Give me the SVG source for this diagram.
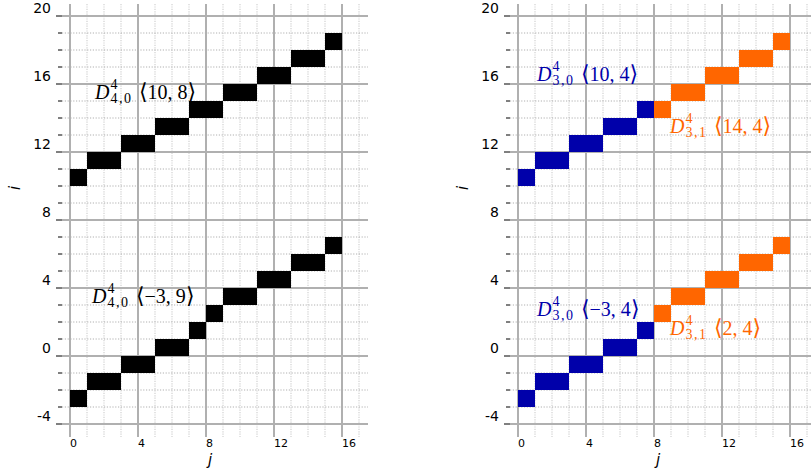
<svg xmlns="http://www.w3.org/2000/svg" xmlns:xlink="http://www.w3.org/1999/xlink" width="811" height="476" viewBox="0 0 811 476">
<style>
.maj{stroke:#b0b0b0;stroke-width:2;fill:none}
.minh{stroke:#b0b0b0;stroke-width:1;stroke-dasharray:1.2 1.6;fill:none}
.minv{stroke:#dcdcdc;stroke-width:1.6;stroke-dasharray:1.2 1.2;fill:none}
.tk{stroke:#000;stroke-width:1;fill:none}
.yl{font-family:"DejaVu Sans",sans-serif;font-size:14px;text-anchor:end;fill:#000}
.xl{font-family:"DejaVu Sans",sans-serif;font-size:11px;fill:#000}
.ax{font-family:"DejaVu Sans",sans-serif;font-style:italic;font-size:15px;text-anchor:middle;fill:#000}
.lb{font-family:"Liberation Serif","DejaVu Serif","DejaVu Sans",serif;font-size:20px}
.sc{font-size:14px;letter-spacing:1.5px}
.br{font-size:22px}
.k{fill:#000}
.b{fill:#0000aa}
.o{fill:#ff6600}
</style>
<defs>
<g id="grid">
<path class="minv" d="M87 4V437M104 4V437M121 4V437M155 4V437M172 4V437M189 4V437M223 4V437M240 4V437M257 4V437M291 4V437M308 4V437M325 4V437M359 4V437"/>
<path class="minh" d="M62 407H368M62 390H368M62 373H368M62 339H368M62 322H368M62 305H368M62 271H368M62 254H368M62 237H368M62 203H368M62 186H368M62 169H368M62 135H368M62 118H368M62 101H368M62 67H368M62 50H368M62 33H368"/>
<path class="maj" d="M70 4V437M138 4V437M206 4V437M274 4V437M342 4V437M62 424H368M62 356H368M62 288H368M62 220H368M62 152H368M62 84H368M62 16H368"/>
</g>
<g id="axis">
<path class="tk" d="M56 424H62M56 356H62M56 288H62M56 220H62M56 152H62M56 84H62M56 16H62"/>
<path class="tk" d="M58 407H62M58 390H62M58 373H62M58 339H62M58 322H62M58 305H62M58 271H62M58 254H62M58 237H62M58 203H62M58 186H62M58 169H62M58 135H62M58 118H62M58 101H62M58 67H62M58 50H62M58 33H62"/>
<text class="yl" x="51" y="13">20</text>
<text class="yl" x="51" y="81">16</text>
<text class="yl" x="51" y="149">12</text>
<text class="yl" x="51" y="217">8</text>
<text class="yl" x="51" y="285">4</text>
<text class="yl" x="51" y="353">0</text>
<text class="yl" x="51" y="421">-4</text>
<text class="xl" x="70" y="447">0</text>
<text class="xl" x="138" y="447">4</text>
<text class="xl" x="206" y="447">8</text>
<text class="xl" x="274" y="447">12</text>
<text class="xl" x="342" y="447">16</text>
<text class="ax" x="210" y="465">j</text>
<text class="ax" transform="translate(20,188) rotate(-90)">i</text>
</g>
</defs>

<g id="left-plot">
<use xlink:href="#grid"/>
<g id="left-upper" class="k">
<rect x="70" y="169" width="17" height="17"/>
<rect x="87" y="152" width="34" height="17"/>
<rect x="121" y="135" width="34" height="17"/>
<rect x="155" y="118" width="34" height="17"/>
<rect x="189" y="101" width="34" height="17"/>
<rect x="223" y="84" width="34" height="17"/>
<rect x="257" y="67" width="34" height="17"/>
<rect x="291" y="50" width="34" height="17"/>
<rect x="325" y="33" width="17" height="17"/>
</g>
<g id="left-lower" class="k">
<rect x="70" y="390" width="17" height="17"/>
<rect x="87" y="373" width="34" height="17"/>
<rect x="121" y="356" width="34" height="17"/>
<rect x="155" y="339" width="34" height="17"/>
<rect x="189" y="322" width="17" height="17"/>
<rect x="206" y="305" width="17" height="17"/>
<rect x="223" y="288" width="34" height="17"/>
<rect x="257" y="271" width="34" height="17"/>
<rect x="291" y="254" width="34" height="17"/>
<rect x="325" y="237" width="17" height="17"/>
</g>
<use xlink:href="#axis"/>
<g id="label-left-upper">
<text class="lb k"><tspan x="95" y="99" font-style="italic">D</tspan><tspan class="sc" x="110.5" y="89">4</tspan><tspan class="sc" x="110.5" y="103">4,0</tspan><tspan class="br" x="139" y="99">⟨</tspan><tspan>10, 8</tspan><tspan class="br">⟩</tspan></text>
</g>
<g id="label-left-lower">
<text class="lb k"><tspan x="92" y="303" font-style="italic">D</tspan><tspan class="sc" x="107.5" y="293">4</tspan><tspan class="sc" x="107.5" y="307">4,0</tspan><tspan class="br" x="136" y="303">⟨</tspan><tspan>−3, 9</tspan><tspan class="br">⟩</tspan></text>
</g>
</g>

<g id="right-plot">
<use xlink:href="#grid" x="448"/>
<g id="right-upper-blue" class="b">
<rect x="518" y="169" width="17" height="17"/>
<rect x="535" y="152" width="34" height="17"/>
<rect x="569" y="135" width="34" height="17"/>
<rect x="603" y="118" width="34" height="17"/>
<rect x="637" y="101" width="17" height="17"/>
</g>
<g id="right-upper-orange" class="o">
<rect x="654" y="101" width="17" height="17"/>
<rect x="671" y="84" width="34" height="17"/>
<rect x="705" y="67" width="34" height="17"/>
<rect x="739" y="50" width="34" height="17"/>
<rect x="773" y="33" width="17" height="17"/>
</g>
<g id="right-lower-blue" class="b">
<rect x="518" y="390" width="17" height="17"/>
<rect x="535" y="373" width="34" height="17"/>
<rect x="569" y="356" width="34" height="17"/>
<rect x="603" y="339" width="34" height="17"/>
<rect x="637" y="322" width="17" height="17"/>
</g>
<g id="right-lower-orange" class="o">
<rect x="654" y="305" width="17" height="17"/>
<rect x="671" y="288" width="34" height="17"/>
<rect x="705" y="271" width="34" height="17"/>
<rect x="739" y="254" width="34" height="17"/>
<rect x="773" y="237" width="17" height="17"/>
</g>
<use xlink:href="#axis" x="448"/>
<g id="label-right-upper-blue">
<text class="lb b"><tspan x="537" y="81" font-style="italic">D</tspan><tspan class="sc" x="552.5" y="71">4</tspan><tspan class="sc" x="552.5" y="85">3,0</tspan><tspan class="br" x="581" y="81">⟨</tspan><tspan>10, 4</tspan><tspan class="br">⟩</tspan></text>
</g>
<g id="label-right-upper-orange">
<text class="lb o"><tspan x="670" y="133" font-style="italic">D</tspan><tspan class="sc" x="685.5" y="123">4</tspan><tspan class="sc" x="685.5" y="137">3,1</tspan><tspan class="br" x="714" y="133">⟨</tspan><tspan>14, 4</tspan><tspan class="br">⟩</tspan></text>
</g>
<g id="label-right-lower-blue">
<text class="lb b"><tspan x="537" y="316" font-style="italic">D</tspan><tspan class="sc" x="552.5" y="306">4</tspan><tspan class="sc" x="552.5" y="320">3,0</tspan><tspan class="br" x="581" y="316">⟨</tspan><tspan>−3, 4</tspan><tspan class="br">⟩</tspan></text>
</g>
<g id="label-right-lower-orange">
<text class="lb o"><tspan x="670" y="335" font-style="italic">D</tspan><tspan class="sc" x="685.5" y="325">4</tspan><tspan class="sc" x="685.5" y="339">3,1</tspan><tspan class="br" x="714" y="335">⟨</tspan><tspan>2, 4</tspan><tspan class="br">⟩</tspan></text>
</g>
</g>
</svg>
